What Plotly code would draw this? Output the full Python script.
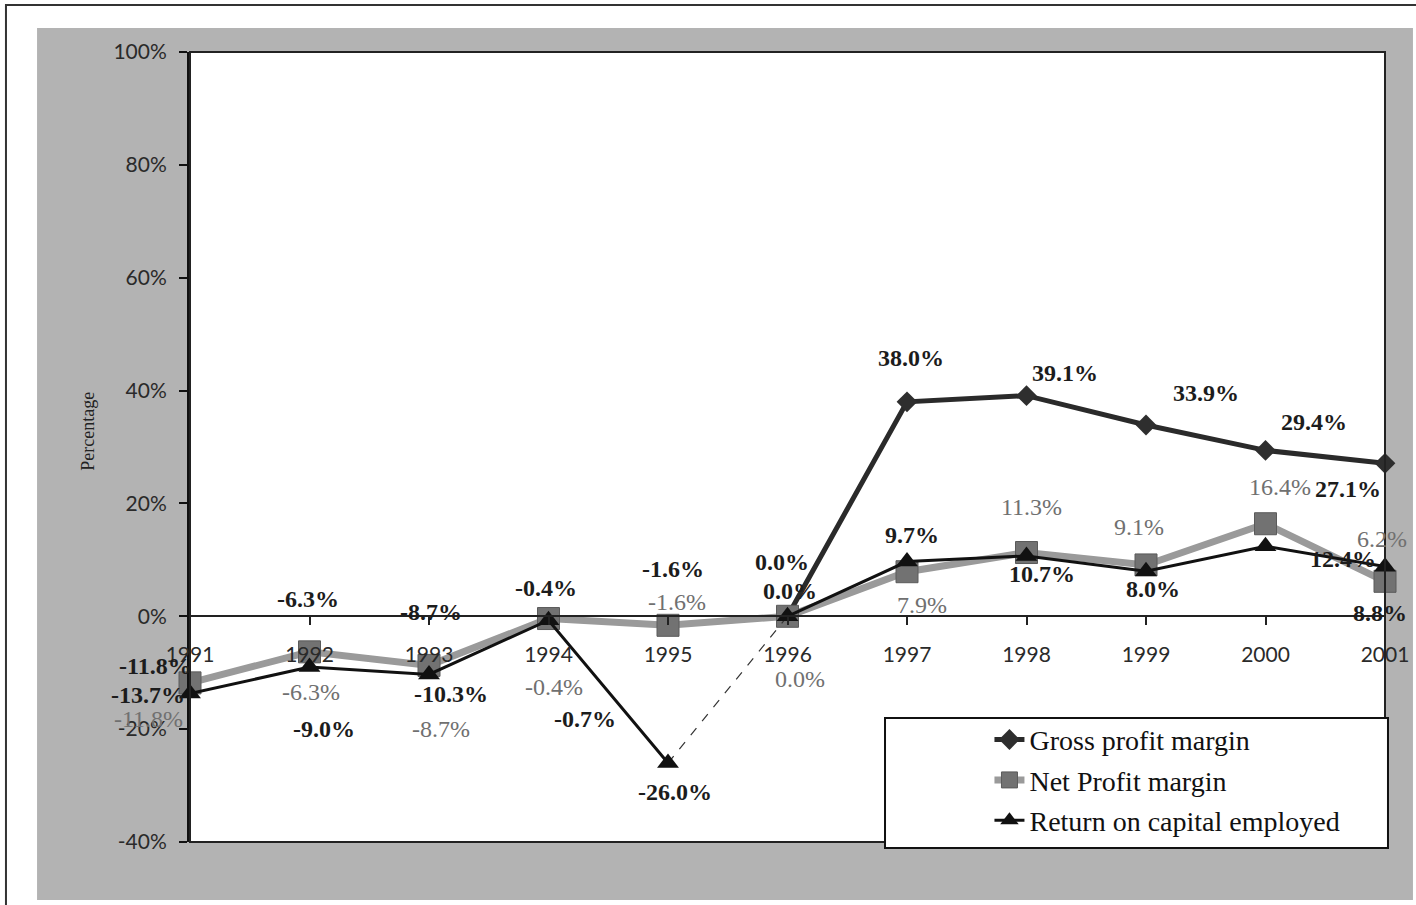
import plotly.graph_objects as go

# ---- data -------------------------------------------------------------
years = [1991, 1992, 1993, 1994, 1995, 1996, 1997, 1998, 1999, 2000, 2001]
gross_margin = [-11.8, -6.3, -8.7, -0.4, -1.6, 0.0, 38.0, 39.1, 33.9, 29.4, 27.1]
net_margin = [-11.8, -6.3, -8.7, -0.4, -1.6, 0.0, 7.9, 11.3, 9.1, 16.4, 6.2]
roce = [-13.7, -9.0, -10.3, -0.7, -26.0, 0.0, 9.7, 10.7, 8.0, 12.4, 8.8]
y_ticks = [-40, -20, 0, 20, 40, 60, 80, 100]

# ---- label placement (pixel offsets from each point: dx right, dy up) --
gross_off = [(-35, 17), (-2, 53), (2, 53), (-3, 31), (5, 56), (-6, 54),
             (4, 44), (38, 23), (60, 32), (48, 28), (-37, -26)]
net_off = [(-42, -36), (1, -40), (12, -64), (5, -68), (9, 23), (12, -63),
           (15, -33), (5, 46), (-7, 38), (14, 37), (-3, 42)]
roce_off = [(-42, -1), (14, -62), (22, -20), (36, -99), (7, -29), (2, 25),
            (5, 27), (15, -18), (7, -18), (77, -13), (-5, -46)]

SERIF = "Liberation Serif"
SANS = "Lato"
DARK = "#1c1c1c"

fig = go.Figure()

fig.add_trace(go.Scatter(
    x=years, y=gross_margin, name="Gross profit margin", mode="lines+markers",
    line=dict(color="#2a2a2a", width=5),
    marker=dict(symbol="diamond", size=16, color="#2e2e2e"),
    cliponaxis=False, legendgroup="g"))

fig.add_trace(go.Scatter(
    x=years, y=net_margin, name="Net Profit margin", mode="lines+markers",
    line=dict(color="#9a9a9a", width=7),
    marker=dict(symbol="square", size=22, color="#727272",
                line=dict(color="#5a5a5a", width=1)),
    cliponaxis=False, legendgroup="n"))

# thin dashed link across the 1995 -> 1996 gap of the ROCE series
fig.add_trace(go.Scatter(
    x=years[4:6], y=roce[4:6], mode="lines", showlegend=False,
    line=dict(color="#333333", width=1.2, dash="dash"), hoverinfo="skip"))

roce_style = dict(mode="lines+markers",
                  line=dict(color="#111111", width=3),
                  marker=dict(symbol="triangle-up", size=19, color="#111111"),
                  cliponaxis=False, legendgroup="r")
fig.add_trace(go.Scatter(x=years[:5], y=roce[:5], name="Return on capital employed",
                         showlegend=True, **roce_style))
fig.add_trace(go.Scatter(x=years[5:], y=roce[5:], name="Return on capital employed",
                         showlegend=False, **roce_style))

# ---- data labels ----------------------------------------------------
annotations = []


def add_labels(values, offsets, color, weight):
    for yr, v, (dx, dy) in zip(years, values, offsets):
        annotations.append(dict(
            x=yr, y=v, text=f"{v:.1f}%", showarrow=False,
            xshift=dx, yshift=dy,
            font=dict(family=SERIF, size=24, color=color, weight=weight)))


add_labels(gross_margin, gross_off, DARK, "bold")
add_labels(net_margin, net_off, "#707070", "normal")
add_labels(roce, roce_off, DARK, "bold")

annotations.append(dict(
    text="Percentage", xref="paper", yref="paper", x=-0.095, y=0.52,
    textangle=-90, showarrow=False,
    font=dict(family=SERIF, size=18, color="#222222")))

# ---- background panels and frames ------------------------------------
shapes = [
    # grey chart panel
    dict(type="rect", xref="paper", yref="paper", x0=-0.128, x1=1.0234,
         y0=-0.0734, y1=1.0304, fillcolor="#b3b3b3", line=dict(width=0),
         layer="below"),
    # white plotting area
    dict(type="rect", xref="paper", yref="paper", x0=0, x1=1, y0=0, y1=1,
         fillcolor="white", line=dict(width=0), layer="below"),
    # border around plotting area
    dict(type="rect", xref="paper", yref="paper", x0=0, x1=1, y0=0, y1=1,
         line=dict(color="#222222", width=2), layer="above"),
    # outer page frame
    dict(type="rect", xref="paper", yref="paper", x0=-0.154, x1=1.2,
         y0=-0.3, y1=1.0595, line=dict(color="#333333", width=2),
         layer="above"),
    # legend box
    dict(type="rect", xref="paper", yref="paper", x0=0.5816, x1=1.0025,
         y0=-0.0076, y1=0.157, fillcolor="white",
         line=dict(color="#111111", width=2), layer="above"),
]

fig.update_layout(
    width=1416, height=905,
    margin=dict(l=190, r=31, t=52, b=63, autoexpand=False),
    paper_bgcolor="white", plot_bgcolor="white",
    showlegend=True,
    legend=dict(x=0.669, y=0.161, xanchor="left", yanchor="top",
                bgcolor="rgba(0,0,0,0)", borderwidth=0,
                font=dict(family=SERIF, size=28, color="#111111"),
                traceorder="grouped", tracegroupgap=1, itemwidth=30),
    xaxis=dict(range=[1991, 2001], tickvals=years, ticktext=[str(y) for y in years],
               showgrid=False, zeroline=False, showline=True,
               linecolor="#222222", linewidth=2, anchor="free",
               position=40 / 140, ticks="outside", ticklen=8,
               tickcolor="#222222", tickwidth=2, ticklabelstandoff=12,
               tickfont=dict(family=SANS, size=21, color="#2a2a2a")),
    yaxis=dict(range=[-40, 100], tickvals=y_ticks,
               ticktext=[f"{t}%" for t in y_ticks],
               showgrid=False, zeroline=False, showline=True,
               linecolor="#111111", linewidth=3, ticks="outside", ticklen=8,
               tickcolor="#111111", tickwidth=2, ticklabelstandoff=8,
               tickfont=dict(family=SANS, size=21, color="#2a2a2a")),
    annotations=annotations,
    shapes=shapes,
)

fig.write_html("out.html")
